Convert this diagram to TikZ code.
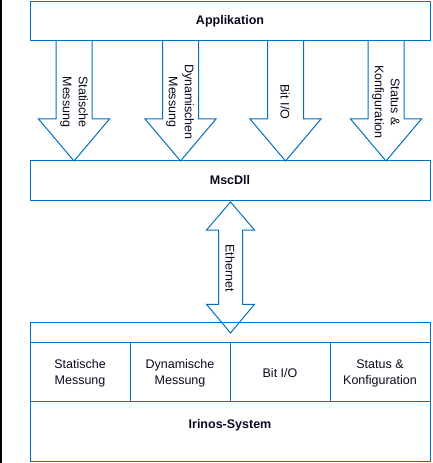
\documentclass[tikz,border=0pt]{standalone}
\usepackage{fontspec}
\setmainfont{Liberation Sans}
\definecolor{boxblue}{RGB}{0,112,192}
\definecolor{txt}{RGB}{10,10,30}
\tikzset{
  frame/.style={draw=boxblue, line width=1bp},
  arr/.style={draw=boxblue, line width=1bp, line join=miter},
  lbl/.style={text=txt, font=\fontsize{12.5bp}{16bp}\selectfont, align=center, inner sep=0pt},
  blbl/.style={lbl, font=\fontsize{12.5bp}{16bp}\selectfont\bfseries},
}
\begin{document}
\begin{tikzpicture}[x=1bp,y=-1bp]
\useasboundingbox (0,0) rectangle (432,463);
\fill[black] (0,0) rectangle (2,463);
% boxes
\draw[frame] (30,1.5) rectangle (430,41);
\node[blbl, anchor=base] (app) at (230,25) {Applikation};
\draw[frame] (30,161) rectangle (430,201);
\node[blbl, anchor=base] (msc) at (230,185) {MscDll};
\draw[frame] (30,322) rectangle (430,461);
\draw[frame] (30,342) -- (430,342);
\draw[frame] (30,401) -- (430,401);
\foreach \x in {130,230,330} \draw[frame] (\x,342) -- (\x,401);
\node[lbl] (c1) at (80,373) {Statische\\Messung};
\node[lbl] (c2) at (180,373) {Dynamische\\Messung};
\node[lbl] (c3) at (280,373) {Bit I/O};
\node[lbl] (c4) at (380,373) {Status \&\\Konfiguration};
\node[blbl, anchor=base] (irinos) at (230,428) {Irinos-System};
% down block arrows
\foreach \c in {74,180.5,285.5,386} {
  \draw[arr] (\c-18,41) -- (\c-18,119) -- (\c-35.5,119) -- (\c,161)
    -- (\c+35.5,119) -- (\c+18,119) -- (\c+18,41);
}
\node[lbl, rotate=-90] (l1) at (74,102) {Statische\\Messung};
\node[lbl, rotate=-90] (l2) at (180,102) {Dynamischen\\Messung};
\node[lbl, rotate=-90] (l3) at (285,102) {Bit I/O};
\node[lbl, rotate=-90] (l4) at (386,102) {Status \&\\Konfiguration};
% ethernet double arrow
\draw[arr] (230.5,202) -- (254.5,230) -- (242.5,230) -- (242.5,304.3) -- (254.5,304.3)
  -- (230.5,333) -- (206.5,304.3) -- (218.5,304.3) -- (218.5,230) -- (206.5,230) -- cycle;
\node[lbl, rotate=-90] (eth) at (230,268) {Ethernet};
\end{tikzpicture}
\end{document}
